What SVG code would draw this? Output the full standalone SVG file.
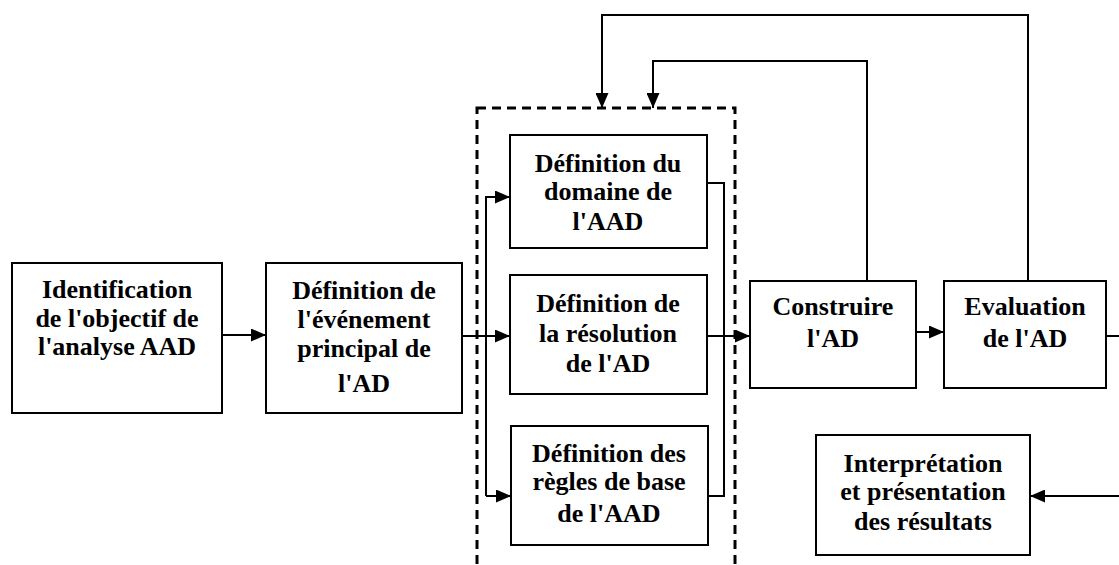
<svg xmlns="http://www.w3.org/2000/svg" width="1119" height="565" viewBox="0 0 1119 565">
  <style>
    .box { fill: #fff; stroke: #000; stroke-width: 2; }
    .lbl { font-family: 'Liberation Serif', 'DejaVu Serif', serif; font-weight: 700; font-size: 26px; text-anchor: middle; fill: #000; }
    .wire { fill: none; stroke: #000; stroke-width: 2; }
    .group { fill: none; stroke: #000; stroke-width: 3; stroke-dasharray: 9 6; }
  </style>
  <defs>
    <marker id="arrow" viewBox="0 0 15 13" refX="15" refY="6.5" markerWidth="15" markerHeight="13" markerUnits="userSpaceOnUse" orient="auto">
      <path d="M0,0 L15,6.5 L0,13 Z" fill="#000"/>
    </marker>
  </defs>
  <rect width="1119" height="565" fill="#fff"/>

  <!-- dashed grouping of the three definition steps -->
  <rect id="definition-group" class="group" x="477" y="108" width="258" height="480"/>

  <g id="connectors">
    <path class="wire" d="M222,335 L266,335" marker-end="url(#arrow)"/>
    <path class="wire" d="M462,336 L510,336" marker-end="url(#arrow)"/>
    <path class="wire" d="M486,496 L486,197 L510,197" marker-end="url(#arrow)"/>
    <path class="wire" d="M486,496 L511,496" marker-end="url(#arrow)"/>
    <path class="wire" d="M707,183 L724,183 L724,496 L708,496"/>
    <path class="wire" d="M707,336 L750,336" marker-end="url(#arrow)"/>
    <path class="wire" d="M916,332 L944,332" marker-end="url(#arrow)"/>
    <path class="wire" d="M1106,336 L1119,336"/>
    <path class="wire" d="M1119,496 L1030,496" marker-end="url(#arrow)"/>
    <path class="wire" d="M867,281 L867,61 L653,61 L653,108" marker-end="url(#arrow)"/>
    <path class="wire" d="M1028,281 L1028,15 L602,15 L602,108" marker-end="url(#arrow)"/>
  </g>

  <g id="objectif">
    <rect class="box" x="12" y="263" width="210" height="150"/>
    <text class="lbl" x="117" y="298">Identification</text>
    <text class="lbl" x="117" y="327">de l'objectif de</text>
    <text class="lbl" x="117" y="355">l'analyse AAD</text>
  </g>

  <g id="evenement">
    <rect class="box" x="266" y="263" width="196" height="150"/>
    <text class="lbl" x="364" y="299">Définition de</text>
    <text class="lbl" x="364" y="328">l'événement</text>
    <text class="lbl" x="364" y="357">principal de</text>
    <text class="lbl" x="364" y="392">l'AD</text>
  </g>

  <g id="domaine">
    <rect class="box" x="510" y="135" width="197" height="113"/>
    <text class="lbl" x="608" y="172">Définition du</text>
    <text class="lbl" x="608" y="200">domaine de</text>
    <text class="lbl" x="608" y="230">l'AAD</text>
  </g>

  <g id="resolution">
    <rect class="box" x="510" y="275" width="197" height="119"/>
    <text class="lbl" x="608" y="312">Définition de</text>
    <text class="lbl" x="608" y="342">la résolution</text>
    <text class="lbl" x="608" y="372">de l'AD</text>
  </g>

  <g id="regles">
    <rect class="box" x="511" y="426" width="197" height="119"/>
    <text class="lbl" x="609" y="462">Définition des</text>
    <text class="lbl" x="609" y="490">règles de base</text>
    <text class="lbl" x="609" y="522">de l'AAD</text>
  </g>

  <g id="construire">
    <rect class="box" x="750" y="281" width="166" height="107"/>
    <text class="lbl" x="833" y="315">Construire</text>
    <text class="lbl" x="833" y="347">l'AD</text>
  </g>

  <g id="evaluation">
    <rect class="box" x="944" y="281" width="162" height="107"/>
    <text class="lbl" x="1025" y="315">Evaluation</text>
    <text class="lbl" x="1025" y="347">de l'AD</text>
  </g>

  <g id="interpretation">
    <rect class="box" x="816" y="435" width="214" height="120"/>
    <text class="lbl" x="923" y="472">Interprétation</text>
    <text class="lbl" x="923" y="500">et présentation</text>
    <text class="lbl" x="923" y="530">des résultats</text>
  </g>
</svg>
